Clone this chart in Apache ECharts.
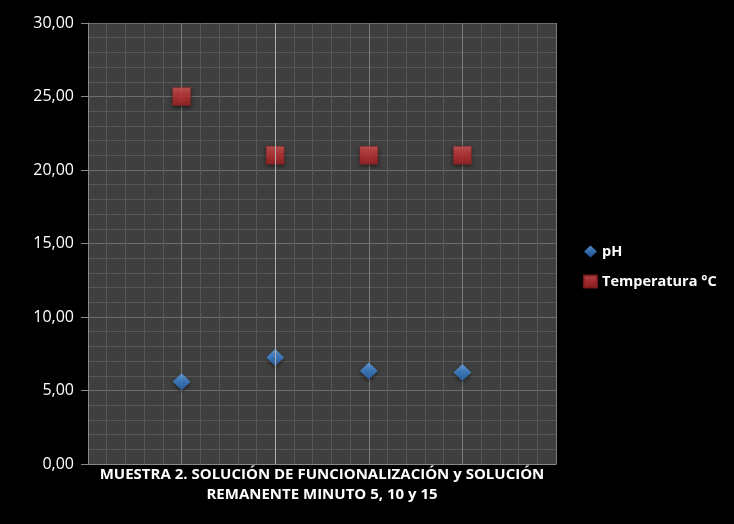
<!DOCTYPE html>
<html>
<head>
<meta charset="utf-8">
<script src="https://cdn.jsdelivr.net/npm/echarts@6/dist/echarts.min.js"></script>
<style>html,body{margin:0;padding:0;background:#000;}#c{width:734px;height:524px;}</style>
</head>
<body>
<div id="c"></div>
<script>
const xPositions = [1, 2, 3, 4];
const phValues = [5.6, 7.25, 6.33, 6.22];
const tempValues = [25, 21, 21, 21];
const seriesNames = ['pH', 'Temperatura °C'];
const xTitle = 'MUESTRA 2. SOLUCIÓN DE FUNCIONALIZACIÓN y SOLUCIÓN\nREMANENTE MINUTO 5, 10 y 15';

const chart = echarts.init(document.getElementById('c'), null, {renderer: 'canvas'});
const font = '"Open Sans", "DejaVu Sans", sans-serif';
chart.setOption({
  backgroundColor: '#000',
  animation: false,
  grid: {left: 88, right: 178, top: 23, bottom: 60, show: true, backgroundColor: '#3f3f3f', borderWidth: 0},
  legend: {
    orient: 'vertical', left: 578, top: 239, itemGap: 15,
    itemWidth: 13, itemHeight: 12,
    textStyle: {color: '#fff', fontFamily: font, fontSize: 14.5, fontWeight: 'bold'},
    data: [
      {name: seriesNames[0], icon: 'diamond'},
      {name: seriesNames[1], icon: 'rect'}
    ]
  },
  xAxis: {
    type: 'value', min: 0, max: 5, interval: 1,
    name: xTitle, nameLocation: 'middle', nameGap: 1,
    nameTextStyle: {color: '#fff', fontFamily: font, fontSize: 15, fontWeight: 'bold', lineHeight: 20, verticalAlign: 'top'},
    axisLabel: {show: false}, axisTick: {show: false},
    axisLine: {show: true, lineStyle: {color: '#8a8a8a', width: 1}},
    splitLine: {show: true, lineStyle: {color: '#7a7a7a', width: 1}},
    minorTick: {show: false, splitNumber: 5},
    minorSplitLine: {show: true, lineStyle: {color: '#575757', width: 1}}
  },
  yAxis: {
    type: 'value', min: 0, max: 30, interval: 5,
    axisLabel: {color: '#fff', fontFamily: font, fontSize: 16, margin: 14,
      formatter: v => v.toFixed(2).replace('.', ',')},
    axisTick: {show: true, length: 7, lineStyle: {color: '#8a8a8a'}},
    axisLine: {show: true, lineStyle: {color: '#8a8a8a'}},
    splitLine: {show: true, lineStyle: {color: '#6e6e6e', width: 1}},
    minorTick: {show: false, splitNumber: 5},
    minorSplitLine: {show: true, lineStyle: {color: '#575757', width: 1}}
  },
  series: [
    {
      name: seriesNames[0], type: 'scatter', symbol: 'diamond', symbolSize: [18, 17],
      data: xPositions.map((x, i) => [x, phValues[i]]),
      itemStyle: {
        color: new echarts.graphic.LinearGradient(0, 0, 0, 1, [
          {offset: 0, color: '#6aa8ec'}, {offset: 0.5, color: '#3d86d6'}, {offset: 1, color: '#2a65ae'}
        ]),
        shadowColor: 'rgba(0,0,0,0.6)', shadowBlur: 4, shadowOffsetY: 2
      },
      markLine: {
        silent: true, symbol: 'none', label: {show: false},
        lineStyle: {color: '#b0b0b0', width: 1, type: 'solid'},
        data: [{xAxis: 2}]
      },
      z: 3
    },
    {
      name: seriesNames[1], type: 'scatter', symbol: 'rect', symbolSize: 18,
      data: xPositions.map((x, i) => [x, tempValues[i]]),
      itemStyle: {
        color: new echarts.graphic.LinearGradient(0, 0, 0, 1, [
          {offset: 0, color: '#e05a5a'}, {offset: 0.5, color: '#c83436'}, {offset: 1, color: '#a52528'}
        ]),
        borderColor: '#8c1e20', borderWidth: 0.5,
        shadowColor: 'rgba(0,0,0,0.6)', shadowBlur: 4, shadowOffsetY: 2
      },
      z: 3
    }
  ]
});
</script>
</body>
</html>
